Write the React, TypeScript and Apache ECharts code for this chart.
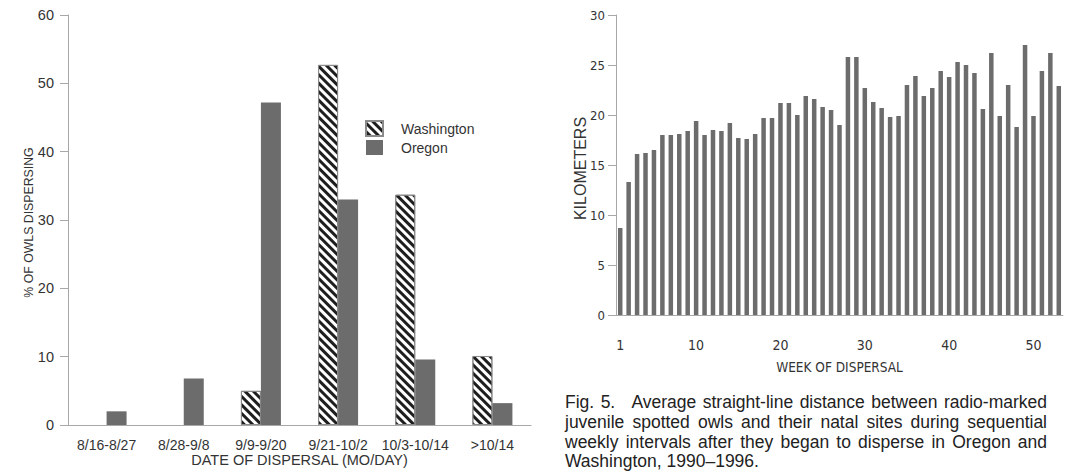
import React, { useEffect, useRef } from 'react';
import * as echarts from 'echarts';

// ---- Left chart data ----
const periods = ['8/16-8/27', '8/28-9/8', '9/9-9/20', '9/21-10/2', '10/3-10/14', '>10/14'];
const washington = [0, 0, 5.0, 52.7, 33.7, 10.1];
const oregon = [2.0, 6.8, 47.2, 33.0, 9.6, 3.2];
const leftTicks = [0, 10, 20, 30, 40, 50, 60];

// ---- Right chart data ----
const weeks = [
  '1', '2', '3', '4', '5', '6', '7', '8', '9', '10',
  '11', '12', '13', '14', '15', '16', '17', '18', '19', '20',
  '21', '22', '23', '24', '25', '26', '27', '28', '29', '30',
  '31', '32', '33', '34', '35', '36', '37', '38', '39', '40',
  '41', '42', '43', '44', '45', '46', '47', '48', '49', '50',
  '51', '52', '53',
];
const kilometers = [
  8.7, 13.3, 16.1, 16.2, 16.5, 18.0, 18.0, 18.1, 18.4, 19.4,
  18.0, 18.5, 18.4, 19.2, 17.7, 17.6, 18.1, 19.7, 19.7, 21.2,
  21.2, 20.0, 21.9, 21.6, 20.8, 20.5, 19.0, 25.8, 25.8, 22.7,
  21.3, 20.7, 19.8, 19.9, 23.0, 23.9, 21.9, 22.7, 24.4, 23.8,
  25.3, 25.0, 24.2, 20.6, 26.2, 19.9, 23.0, 18.8, 27.0, 19.9,
  24.4, 26.2, 22.9,
];
const weekLabels = ['1', '10', '20', '30', '40', '50'];

const captionLines = [
  'Fig. 5.   Average straight-line distance between radio-marked',
  'juvenile spotted owls and their natal sites during sequential',
  'weekly intervals after they began to disperse in Oregon and',
  'Washington, 1990\u20131996.',
];

const SANS = "'Liberation Sans', Arial, sans-serif";
const NARROW = "'Liberation Sans Narrow', 'DejaVu Sans Condensed', 'Liberation Sans', sans-serif";
const AXIS_GRAY = '#a8a8a8';
const TEXT = '#333';
const BAR_GRAY = '#6c6c6c';

function buildCaption(): any[] {
  const canvas = document.createElement('canvas');
  const ctx = canvas.getContext('2d') as CanvasRenderingContext2D;
  const left = 565;
  const right = 1047;
  const avail = right - left;
  const tops = [402, 422, 442, 461];
  const fam = "'Liberation Sans', Arial, sans-serif";
  // pick the largest font size (max 17.5) where every line fits with normal spaces
  let fontSize = 17.5;
  for (; fontSize > 12; fontSize -= 0.25) {
    ctx.font = `${fontSize}px ${fam}`;
    const ok = captionLines.every((l) => ctx.measureText(l).width <= avail);
    if (ok) break;
  }
  ctx.font = `${fontSize}px ${fam}`;
  const els: any[] = [];
  captionLines.forEach((line, li) => {
    const y = tops[li];
    const isLast = li === captionLines.length - 1;
    const base = { fontSize, fontFamily: SANS, fill: '#222', verticalAlign: 'middle', align: 'left' };
    if (isLast) {
      els.push({ type: 'text', x: left, y, style: { ...base, text: line } });
      return;
    }
    const words = line.split(/\s+/);
    const widths = words.map((w) => ctx.measureText(w).width);
    const total = widths.reduce((a, b) => a + b, 0);
    const gapWeights = words.slice(0, -1).map((w) => (w === '5.' ? 2.5 : 1));
    const totalWeight = gapWeights.reduce((a, b) => a + b, 0);
    const unit = (avail - total) / totalWeight;
    let x = left;
    words.forEach((w, i) => {
      els.push({ type: 'text', x, y, style: { ...base, text: w } });
      x += widths[i] + (i < gapWeights.length ? gapWeights[i] * unit : 0);
    });
  });
  return els;
}

export default function App() {
  const ref = useRef<HTMLDivElement>(null);

  useEffect(() => {
    if (!ref.current) return;
    const chart = echarts.init(ref.current, null, { renderer: 'svg' });
    const option: any = {
      animation: false,
      backgroundColor: '#fff',
      legend: {
        orient: 'vertical',
        left: 365,
        top: 120,
        padding: 0,
        itemWidth: 17,
        itemHeight: 15,
        itemGap: 3,
        icon: 'rect',
        data: ['Washington', 'Oregon'],
        textStyle: { fontSize: 14, color: TEXT, fontFamily: SANS, padding: [0, 0, 0, 13] },
      },
      grid: [
        { left: 68, top: 15, width: 463, height: 415 },
        { left: 616, top: 15, width: 447, height: 300 },
      ],
      xAxis: [
        {
          type: 'category',
          gridIndex: 0,
          data: periods,
          name: 'DATE OF DISPERSAL (MO/DAY)',
          nameLocation: 'middle',
          nameGap: 27,
          nameMoveOverlap: false,
          nameTextStyle: { fontSize: 14.5, color: TEXT, fontFamily: SANS },
          axisLine: { lineStyle: { color: AXIS_GRAY, width: 1 } },
          axisTick: { alignWithLabel: true, length: 7, lineStyle: { color: AXIS_GRAY } },
          axisLabel: { fontSize: 14, color: TEXT, fontFamily: SANS, margin: 13, interval: 0 },
        },
        {
          type: 'category',
          gridIndex: 1,
          data: weeks,
          name: 'WEEK OF DISPERSAL',
          nameLocation: 'middle',
          nameGap: 45,
          nameMoveOverlap: false,
          nameTextStyle: { fontSize: 13.5, color: TEXT, fontFamily: NARROW },
          axisLine: { lineStyle: { color: AXIS_GRAY, width: 1 } },
          axisTick: { alignWithLabel: true, interval: 0, length: 12, lineStyle: { color: '#bdbdbd' } },
          axisLabel: {
            fontSize: 14,
            color: TEXT,
            fontFamily: NARROW,
            margin: 23,
            interval: (_i: number, v: string) => weekLabels.includes(v),
          },
        },
      ],
      yAxis: [
        {
          type: 'value',
          gridIndex: 0,
          min: leftTicks[0],
          max: leftTicks[leftTicks.length - 1],
          interval: 10,
          name: '% OF OWLS DISPERSING',
          nameLocation: 'middle',
          nameGap: 33,
          nameMoveOverlap: false,
          nameTextStyle: { fontSize: 12.3, color: TEXT, fontFamily: SANS, padding: [0, 5, 0, 0] },
          splitLine: { show: false },
          axisLine: { show: true, lineStyle: { color: AXIS_GRAY, width: 1 } },
          axisTick: { show: true, length: 8, lineStyle: { color: AXIS_GRAY } },
          axisLabel: { fontSize: 14.5, color: TEXT, fontFamily: SANS, margin: 14 },
        },
        {
          type: 'value',
          gridIndex: 1,
          min: 0,
          max: 30,
          interval: 5,
          name: 'KILOMETERS',
          nameLocation: 'middle',
          nameGap: 28,
          nameMoveOverlap: false,
          nameTextStyle: { fontSize: 16, color: TEXT, fontFamily: SANS, padding: [0, 7, 0, 0] },
          splitLine: { show: false },
          axisLine: { show: true, lineStyle: { color: AXIS_GRAY, width: 1 } },
          axisTick: { show: true, length: 8, lineStyle: { color: AXIS_GRAY } },
          axisLabel: { fontSize: 13, color: TEXT, fontFamily: NARROW, margin: 11 },
        },
      ],
      series: [
        {
          name: 'Washington',
          type: 'bar',
          xAxisIndex: 0,
          yAxisIndex: 0,
          data: washington.map((v) => (v === 0 ? { value: v, itemStyle: { borderWidth: 0 } } : v)),
          barWidth: 20,
          barGap: '0%',
          itemStyle: {
            color: '#fff',
            borderColor: '#8a8a8a',
            borderWidth: 1,
            decal: {
              symbol: 'rect',
              symbolSize: 1,
              color: '#1e1e1e',
              dashArrayX: [1, 0],
              dashArrayY: [2.6, 2.4],
              rotation: Math.PI / 4,
            },
          },
        },
        {
          name: 'Oregon',
          type: 'bar',
          xAxisIndex: 0,
          yAxisIndex: 0,
          data: oregon,
          barWidth: 20,
          barGap: '0%',
          itemStyle: { color: BAR_GRAY },
        },
        {
          name: 'Distance',
          type: 'bar',
          xAxisIndex: 1,
          yAxisIndex: 1,
          data: kilometers,
          barWidth: 4.5,
          itemStyle: { color: BAR_GRAY },
        },
      ],
      graphic: buildCaption(),
    };
    chart.setOption(option);
    return () => chart.dispose();
  }, []);

  return (
    <div
      ref={ref}
      style={{ position: 'fixed', left: 0, top: 0, width: 1082, height: 472, background: '#fff' }}
    />
  );
}
